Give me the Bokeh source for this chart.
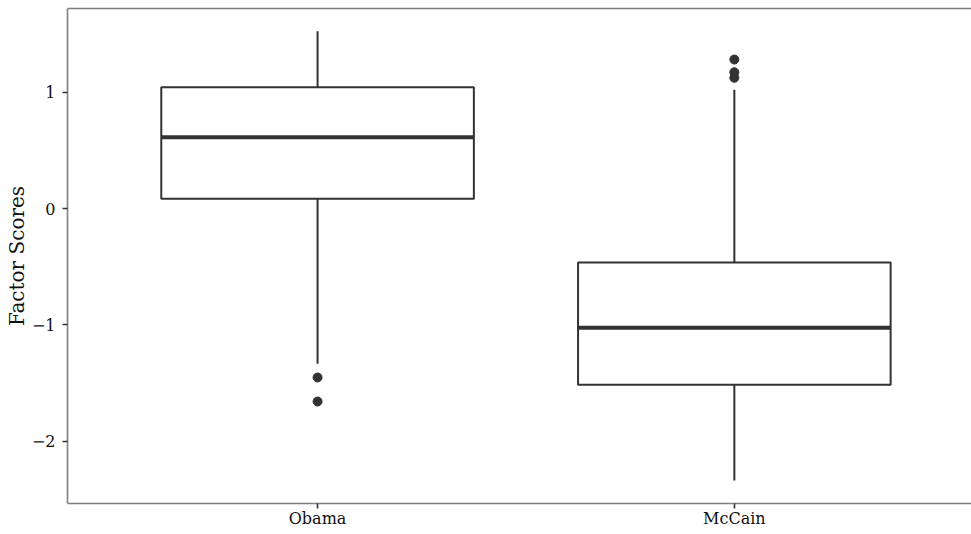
from bokeh.plotting import figure
from bokeh.models import ColumnDataSource, FixedTicker, LinearAxis, Range1d
from bokeh.embed import file_html
from bokeh.resources import INLINE

# ---- data ----
categories = ["Obama", "McCain"]
q1 = [0.083, -1.516]
median = [0.613, -1.026]
q3 = [1.043, -0.464]
whisker_low = [-1.335, -2.339]
whisker_high = [1.525, 1.021]
outlier_cat = ["Obama", "Obama", "McCain", "McCain", "McCain"]
outlier_val = [-1.453, -1.660, 1.281, 1.172, 1.124]
y_ticks = [-2, -1, 0, 1]
y_tick_labels = ["\u22122", "\u22121", "0", "1"]

FONT = "DejaVu Serif"
BOX_W = 0.75
DARK = "#333333"
BORDER = "#7f7f7f"

xpos = [i + 1 for i in range(len(categories))]
pos_of = {c: i + 1 for i, c in enumerate(categories)}

src = ColumnDataSource(dict(
    x=xpos,
    x0=[x - BOX_W / 2 for x in xpos],
    x1=[x + BOX_W / 2 for x in xpos],
    q1=q1, med=median, q3=q3, lo=whisker_low, hi=whisker_high,
))
out_src = ColumnDataSource(dict(x=[pos_of[c] for c in outlier_cat], y=outlier_val))

p = figure(width=971, height=534, output_backend="svg", toolbar_location=None,
           x_range=Range1d(0.4, 2.569), y_range=Range1d(-2.537, 1.72),
           min_border_left=67, min_border_right=0, min_border_top=8, min_border_bottom=31)

p.background_fill_color = "white"
p.border_fill_color = "white"
p.outline_line_color = None
p.xgrid.visible = False
p.ygrid.visible = False

# whiskers
p.segment(x0="x", x1="x", y0="q3", y1="hi", source=src, line_color=DARK, line_width=2)
p.segment(x0="x", x1="x", y0="q1", y1="lo", source=src, line_color=DARK, line_width=2)
# boxes
p.vbar(x="x", width=BOX_W, bottom="q1", top="q3", source=src,
       fill_color="white", line_color=DARK, line_width=2)
# medians
p.segment(x0="x0", x1="x1", y0="med", y1="med", source=src, line_color=DARK, line_width=4)
# outliers
p.scatter(x="x", y="y", source=out_src, size=9, fill_color=DARK, line_color=DARK)

# axes
xa = p.xaxis[0]
xa.ticker = FixedTicker(ticks=xpos)
xa.major_label_overrides = {x: c for x, c in zip(xpos, categories)}
ya = p.yaxis[0]
ya.ticker = FixedTicker(ticks=y_ticks)
ya.major_label_overrides = {t: s for t, s in zip(y_ticks, y_tick_labels)}
ya.axis_label = "Factor Scores"
ya.axis_label_text_font = FONT
ya.axis_label_text_font_size = "20px"
ya.axis_label_text_font_style = "normal"
ya.axis_label_text_color = "#111111"
ya.axis_label_standoff = 0

for ax in (xa, ya):
    ax.axis_line_color = BORDER
    ax.axis_line_width = 1.6
    ax.major_tick_line_color = DARK
    ax.major_tick_line_width = 1.6
    ax.major_tick_out = 5
    ax.major_tick_in = 0
    ax.minor_tick_line_color = None
    ax.major_label_text_font = FONT
    ax.major_label_text_font_size = "16px"
    ax.major_label_text_color = "#111111"
xa.major_label_standoff = 0
ya.major_label_standoff = 7

top = LinearAxis(axis_line_color=BORDER, axis_line_width=1.6,
                 major_tick_line_color=None, minor_tick_line_color=None,
                 major_label_text_font_size="0px", major_label_standoff=0,
                 major_tick_out=0, major_tick_in=0)
top.ticker = FixedTicker(ticks=[])
p.add_layout(top, "above")

open("out.html", "w").write(file_html(p, INLINE))
